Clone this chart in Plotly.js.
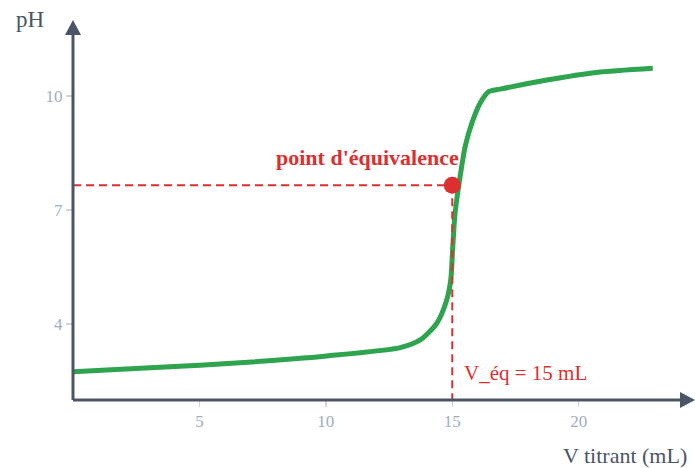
<!DOCTYPE html>
<html>
<head>
<meta charset="utf-8">
<script src="https://cdn.plot.ly/plotly-3.0.1.min.js"></script>
<style>html,body{margin:0;padding:0;background:#fff;}#chart{width:695px;height:468px;}</style>
</head>
<body>
<div id="chart"></div>
<script>
// Titration curve
const volume = [0, 3.44, 6.6, 10.04, 12.94, 13.73, 14.39, 14.78, 14.94, 15.02, 15.11, 15.31, 15.51, 15.77, 16.1, 16.43, 16.89, 18.74, 20.7, 22.93];
const pH =     [2.745, 2.86, 2.98, 3.16, 3.38, 3.58, 4.02, 4.63, 5.16, 6.03, 6.91, 7.88, 8.67, 9.28, 9.81, 10.11, 10.18, 10.42, 10.62, 10.73];
const eqVolume = [15];
const eqPH = [7.65];
const xTicks = [5, 10, 15, 20];
const yTicks = [4, 7, 10];
const xRange = [0, 24.6];
const yRange = [2, 12];

const AXIS = '#4a5568';
const RED = '#dc2f2f';
const GREEN = '#2ea44f';
const FONT = 'Liberation Serif, serif';

const traces = [
  {x: volume, y: pH, mode: 'lines', line: {color: GREEN, width: 5, shape: 'spline', smoothing: 0.7}, hoverinfo: 'skip'},
  {x: [xRange[0], eqVolume[0]], y: [eqPH[0], eqPH[0]], mode: 'lines', line: {color: RED, width: 2, dash: '8px,5px'}},
  {x: [eqVolume[0], eqVolume[0]], y: [eqPH[0], yRange[0]], mode: 'lines', line: {color: RED, width: 2, dash: '8px,5px'}},
  {x: eqVolume, y: eqPH, mode: 'markers', marker: {color: RED, size: 17}, cliponaxis: false}
];

const layout = {
  width: 695, height: 468,
  margin: {l: 73, r: 0, t: 20, b: 68},
  paper_bgcolor: '#fff', plot_bgcolor: '#fff',
  showlegend: false,
  font: {family: FONT},
  xaxis: {
    range: xRange, showgrid: false, zeroline: false, showline: false,
    tickvals: xTicks, ticks: 'outside', ticklen: 6, tickwidth: 1.5, tickcolor: '#cbd5e0',
    tickfont: {family: FONT, size: 17, color: '#a0aec0'}
  },
  yaxis: {
    range: yRange, showgrid: false, zeroline: false, showline: false,
    tickvals: yTicks, ticks: 'outside', ticklen: 6, tickwidth: 1.5, tickcolor: '#cbd5e0',
    tickfont: {family: FONT, size: 17, color: '#a0aec0'}
  },
  shapes: [
    {type: 'line', xref: 'paper', yref: 'paper', x0: 0, y0: 0, x1: 0, y1: 0.965, line: {color: AXIS, width: 3}},
    {type: 'line', xref: 'paper', yref: 'paper', x0: 0, y0: 0, x1: 0.978, y1: 0, line: {color: AXIS, width: 3}},
    {type: 'path', xref: 'paper', yref: 'paper', path: 'M -0.0129 0.9605 L 0 1 L 0.0129 0.9605 Z', fillcolor: AXIS, line: {width: 0}},
    {type: 'path', xref: 'paper', yref: 'paper', path: 'M 0.9759 0.021 L 1 0 L 0.9759 -0.021 Z', fillcolor: AXIS, line: {width: 0}}
  ],
  annotations: [
    {text: 'pH', xref: 'paper', yref: 'paper', x: 0, y: 1, xshift: -59, yshift: 1, xanchor: 'left', yanchor: 'middle', showarrow: false,
     font: {family: FONT, size: 23, color: AXIS}},
    {text: 'V titrant (mL)', xref: 'paper', yref: 'paper', x: 1, y: 0, xshift: -6, yshift: -55, xanchor: 'right', yanchor: 'middle', showarrow: false,
     font: {family: FONT, size: 22, color: AXIS}},
    {text: "<b>point d'équivalence</b>", xref: 'x', yref: 'y', x: eqVolume[0], y: eqPH[0], xshift: 9, yshift: 28, xanchor: 'right', yanchor: 'middle', showarrow: false,
     font: {family: FONT, size: 22, color: RED}},
    {text: 'V_éq = ' + eqVolume[0] + ' mL', xref: 'x', yref: 'y', x: eqVolume[0], y: yRange[0], xshift: 10, yshift: 27, xanchor: 'left', yanchor: 'middle', showarrow: false,
     font: {family: FONT, size: 21, color: RED}}
  ]
};

Plotly.newPlot('chart', traces, layout, {displayModeBar: false, staticPlot: true});
</script>
</body>
</html>
